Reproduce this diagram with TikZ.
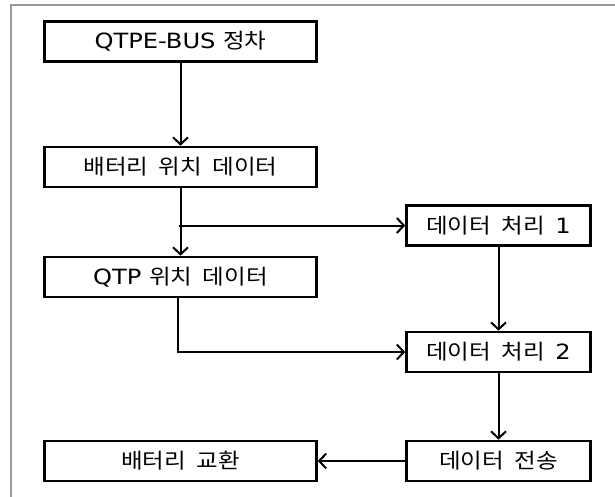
\documentclass[tikz,border=0pt]{standalone}
\usepackage{fontspec}
\usetikzlibrary{arrows.meta}
\newfontfamily\kr{Noto Sans CJK KR}[FakeStretch=1.12,WordSpace=2]
\newfontfamily\lat{DejaVu Sans}[FakeStretch=1.15]
\tikzset{
  stepbox/.style={draw=black, line width=2.6pt, minimum width=272pt, minimum height=40pt, inner sep=0pt, font=\fontsize{21}{25}\selectfont},
  smallbox/.style={stepbox, minimum width=184pt},
  arr/.style={line width=2pt, -{Straight Barb[length=7pt,width=15pt,line width=2pt]}}
}
\begin{document}
\begin{tikzpicture}[x=1pt,y=-1pt]

\useasboundingbox (0,0) rectangle (615,496);

% cadre gris
\draw[gray!80, line width=1.5pt] (11,500) -- (11,5) -- (620,5);

% colonne de gauche
\node[stepbox] (stop) at (180.5,41.5) {\lat QTPE-BUS \kr 정차};
\node[stepbox] (batpos) at (180.5,167) {\kr 배터리 위치 데이터};
\node[stepbox] (qtppos) at (180.5,277) {\lat QTP \kr 위치 데이터};
\node[stepbox] (swap) at (180.5,461) {\kr 배터리 교환};

% colonne de droite
\node[smallbox] (proc1) at (498.5,225.5) {\kr 데이터 처리 \lat 1};
\node[smallbox] (proc2) at (498.5,352) {\kr 데이터 처리 \lat 2};
\node[smallbox] (send) at (498.5,461) {\kr 데이터 전송};

\coordinate (split) at ([xshift=-2pt]batpos.south |- proc1.west);

\draw[arr] (stop) -- (batpos);
\draw[arr] (batpos) -- (qtppos);
\draw[arr] (split) -- (proc1);
\draw[arr] ([xshift=-3pt]qtppos.south) |- (proc2.west);
\draw[arr] (proc1) -- (proc2);
\draw[arr] (proc2) -- (send);
\draw[arr] (send) -- (swap);

\end{tikzpicture}
\end{document}
